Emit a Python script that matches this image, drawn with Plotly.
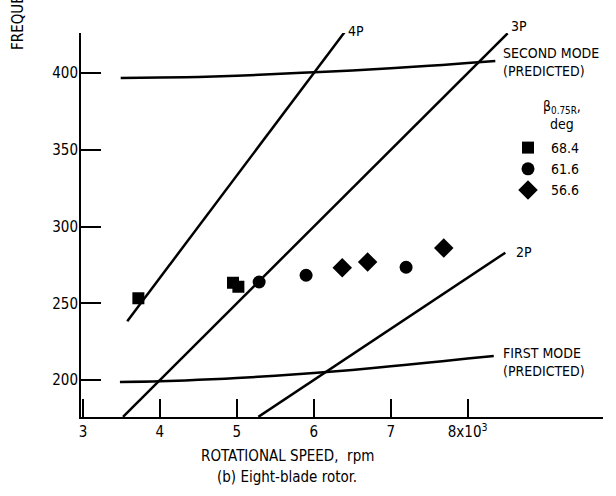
import plotly.graph_objects as go

# Measured natural frequencies, rotational speed in thousands of rpm
sq_rpm = [3.72, 4.95, 5.02]
sq_freq = [253.3, 263.4, 260.8]
ci_rpm = [5.29, 5.90, 7.20]
ci_freq = [263.9, 268.3, 273.5]
di_rpm = [6.37, 6.70, 7.69]
di_freq = [273.2, 276.9, 286.0]
pitch_labels = ["68.4", "61.6", "56.6"]

# Predicted blade modes
mode2_rpm = [3.49, 4.0, 4.5, 5.0, 5.5, 6.0, 6.5, 7.0, 7.5, 8.0, 8.36]
mode2_freq = [396.9, 397.2, 397.6, 398.4, 399.4, 400.6, 401.8, 403.2, 404.8, 406.6, 408.0]
mode1_rpm = [3.48, 4.0, 4.5, 5.0, 5.5, 6.0, 6.5, 7.0, 7.5, 8.0, 8.34]
mode1_freq = [198.7, 199.2, 200.1, 201.3, 202.8, 204.6, 206.6, 209.0, 211.4, 214.0, 215.6]

# Per-rev excitation lines (end points)
p4_rpm = [3.575, 6.40]
p4_freq = [238.3, 426.7]
p3_rpm = [3.52, 8.52]
p3_freq = [176.0, 426.0]
p2_rpm = [5.28, 8.49]
p2_freq = [176.0, 283.0]

x_ticks = [3, 4, 5, 6, 7, 8]
x_ticktext = ["3", "4", "5", "6", "7", "8x10<sup>3</sup>"]
y_ticks = [200, 250, 300, 350, 400]

FONT = "DejaVu Sans Condensed, Liberation Sans Narrow, sans-serif"
LW = 2.5

X0, X1 = 2.974, 9.76
Y0, Y1 = 175.9, 426.2

fig = go.Figure()

for xs, ys in [(mode2_rpm, mode2_freq), (mode1_rpm, mode1_freq),
               (p4_rpm, p4_freq), (p3_rpm, p3_freq), (p2_rpm, p2_freq)]:
    fig.add_trace(go.Scatter(x=xs, y=ys, mode="lines", line=dict(color="black", width=LW),
                             line_shape="spline", showlegend=False, hoverinfo="skip"))

fig.add_trace(go.Scatter(x=sq_rpm, y=sq_freq, mode="markers", name=pitch_labels[0],
                         marker=dict(symbol="square", size=12, color="black")))
fig.add_trace(go.Scatter(x=ci_rpm, y=ci_freq, mode="markers", name=pitch_labels[1],
                         marker=dict(symbol="circle", size=13, color="black")))
fig.add_trace(go.Scatter(x=di_rpm, y=di_freq, mode="markers", name=pitch_labels[2],
                         marker=dict(symbol="diamond", size=15, color="black")))


def px(x):
    return (x - X0) / (X1 - X0)


def py(y):
    return (y - Y0) / (Y1 - Y0)


def label(x, y, text, size=14, xanchor="left", align="left"):
    # paper coordinates so labels above the axis range are still drawn
    fig.add_annotation(x=px(x), y=py(y), xref="paper", yref="paper", text=text,
                       showarrow=False, xanchor=xanchor, yanchor="middle", align=align,
                       font=dict(family=FONT, size=size, color="black"))


label(6.42, 427.5, "4P")
label(8.54, 431.0, "3P")
label(8.43, 407.5, "SECOND MODE<br>(PREDICTED)")
label(8.60, 283.5, "2P")
label(8.44, 212.0, "FIRST MODE<br>(PREDICTED)")
label(9.23, 372.7, "β<sub>0.75R</sub>,<br>deg", size=14, xanchor="center", align="center")

# Axis titles and caption
fig.add_annotation(x=-0.1207, y=0.9505, xref="paper", yref="paper", text="FREQUENCY, Hz",
                   textangle=-90, showarrow=False, xanchor="center", yanchor="bottom",
                   font=dict(family=FONT, size=15, color="black"))
fig.add_annotation(x=(287.5 - 81) / 522, y=(417 - 456) / 384, xref="paper", yref="paper",
                   text="ROTATIONAL SPEED,  rpm", showarrow=False, xanchor="center",
                   yanchor="middle", font=dict(family=FONT, size=15, color="black"))
fig.add_annotation(x=(287 - 81) / 522, y=(417 - 477) / 384, xref="paper", yref="paper",
                   text="(b) Eight-blade rotor.", showarrow=False, xanchor="center",
                   yanchor="middle", font=dict(family=FONT, size=15, color="black"))

fig.update_layout(
    width=616, height=496,
    margin=dict(l=81, r=13, t=33, b=79),
    paper_bgcolor="white", plot_bgcolor="white",
    font=dict(family=FONT, size=15, color="black"),
    legend=dict(
        x=(505 - 81) / 522, y=(417 - 132) / 384, xanchor="left", yanchor="top",
        bgcolor="rgba(0,0,0,0)", tracegroupgap=0, itemwidth=36,
        font=dict(family=FONT, size=14, color="black"),
    ),
    xaxis=dict(
        range=[X0, X1], tickvals=x_ticks, ticktext=x_ticktext,
        showline=True, linecolor="black", linewidth=2, mirror=False,
        ticks="inside", ticklen=18, tickwidth=2, tickcolor="black",
        showgrid=False, zeroline=False, tickfont=dict(family=FONT, size=15, color="black"),
    ),
    yaxis=dict(
        range=[Y0, Y1], tickvals=y_ticks, ticklabelstandoff=-2,
        showline=True, linecolor="black", linewidth=2, mirror=False,
        ticks="inside", ticklen=20, tickwidth=2, tickcolor="black",
        showgrid=False, zeroline=False, tickfont=dict(family=FONT, size=15, color="black"),
    ),
)

fig.write_html("out.html")
